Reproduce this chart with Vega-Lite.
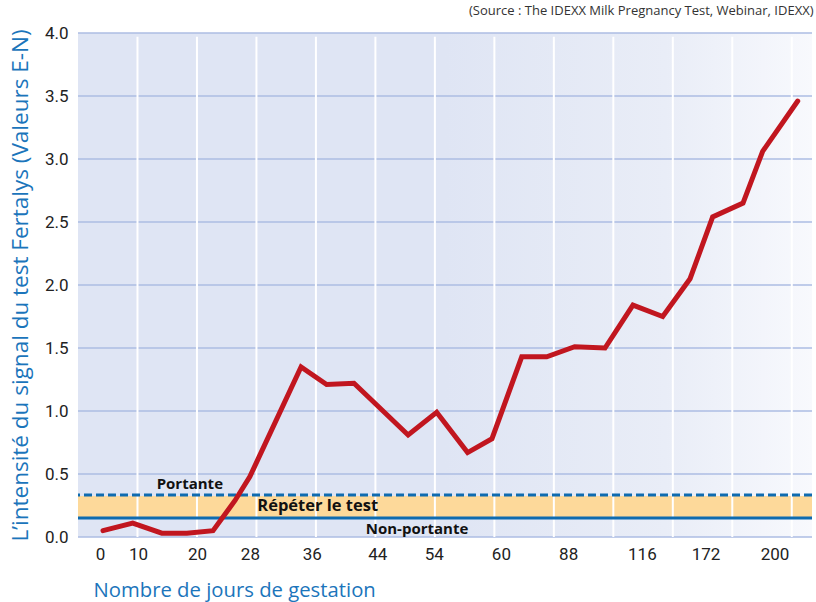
{
  "$schema": "https://vega.github.io/schema/vega-lite/v6.json",
  "width": 734,
  "height": 504,
  "autosize": {"type": "none"},
  "padding": {"left": 78, "top": 33, "right": 4, "bottom": 65},
  "background": "white",
  "config": {"view": {"stroke": null}, "font": "Roboto"},
  "title": {"text": "(Source : The IDEXX Milk Pregnancy Test, Webinar, IDEXX)", "anchor": "end", "fontSize": 13, "fontWeight": "normal", "color": "#333333", "font": "Open Sans", "offset": 6},
  "datasets": {
    "series": [
      {"position": 0.42, "value": 0.05},
      {"position": 0.92, "value": 0.11},
      {"position": 1.41, "value": 0.03},
      {"position": 1.83, "value": 0.03},
      {"position": 2.27, "value": 0.05},
      {"position": 2.64, "value": 0.29},
      {"position": 2.89, "value": 0.48},
      {"position": 3.75, "value": 1.35},
      {"position": 4.18, "value": 1.21},
      {"position": 4.64, "value": 1.22},
      {"position": 5.55, "value": 0.81},
      {"position": 6.03, "value": 0.99},
      {"position": 6.55, "value": 0.67},
      {"position": 6.96, "value": 0.78},
      {"position": 7.46, "value": 1.43},
      {"position": 7.88, "value": 1.43},
      {"position": 8.35, "value": 1.51},
      {"position": 8.86, "value": 1.50},
      {"position": 9.33, "value": 1.84},
      {"position": 9.83, "value": 1.75},
      {"position": 10.29, "value": 2.05},
      {"position": 10.67, "value": 2.54},
      {"position": 11.18, "value": 2.65},
      {"position": 11.51, "value": 3.06},
      {"position": 12.10, "value": 3.46}
    ],
    "hgrid": [{"v": 0}, {"v": 0.5}, {"v": 1}, {"v": 1.5}, {"v": 2}, {"v": 2.5}, {"v": 3}, {"v": 3.5}, {"v": 4}],
    "vgrid": [{"p": 1}, {"p": 2}, {"p": 3}, {"p": 4}, {"p": 5}, {"p": 6}, {"p": 7}, {"p": 8}, {"p": 9}, {"p": 10}, {"p": 11}, {"p": 12}],
    "labels": [
      {"position": 1.88, "value": 0.42, "text": "Portante"},
      {"position": 4.03, "value": 0.245, "text": "Répéter le test"},
      {"position": 5.70, "value": 0.063, "text": "Non-portante"}
    ]
  },
  "layer": [
    {
      "data": {"values": [{}]},
      "mark": {"type": "rect", "color": {"gradient": "linear", "x1": 0, "x2": 1, "y1": 0, "y2": 0, "stops": [{"offset": 0, "color": "#DFE5F4"}, {"offset": 0.5, "color": "#DFE5F4"}, {"offset": 0.8, "color": "#E9EDF7"}, {"offset": 1, "color": "#F8F9FD"}]}},
      "encoding": {
        "x": {"datum": 0, "type": "quantitative", "scale": {"domain": [0, 12.34], "nice": false, "zero": false}, "axis": {"values": [0.37, 1.01, 2.0, 2.89, 3.93, 5.03, 5.98, 7.11, 8.24, 9.48, 10.55, 11.71], "labelExpr": "['0','10','20','28','36','44','54','60','88','116','172','200'][indexof([0.37, 1.01, 2.0, 2.89, 3.93, 5.03, 5.98, 7.11, 8.24, 9.48, 10.55, 11.71], datum.value)]", "grid": false, "ticks": false, "domain": false, "labelFontSize": 17, "labelColor": "#222222", "labelPadding": 9, "labelFont": "Roboto", "title": "Nombre de jours de gestation", "titleFontSize": 20.3, "titleFontWeight": "normal", "titleColor": "#1B75BB", "titleAnchor": "start", "titleAlign": "left", "titleX": 15, "titleY": 53, "titleBaseline": "middle", "titleFont": "Open Sans"}},
        "x2": {"datum": 12.34},
        "y": {"datum": 0, "type": "quantitative", "scale": {"domain": [0, 4], "nice": false}, "axis": {"values": [0, 0.5, 1, 1.5, 2, 2.5, 3, 3.5, 4], "format": ".1f", "grid": false, "ticks": false, "domain": false, "labelFontSize": 17, "labelColor": "#222222", "labelPadding": 10, "labelFont": "Roboto", "title": "L’intensité du signal du test Fertalys (Valeurs E-N)", "titleFontSize": 22.5, "titleFontWeight": "normal", "titleColor": "#1B75BB", "titlePadding": 12, "titleFont": "Open Sans"}},
        "y2": {"datum": 4}
      }
    },
    {
      "data": {"values": [{}]},
      "mark": {"type": "rect", "color": "#FDD99A"},
      "encoding": {
        "x": {"datum": 0, "type": "quantitative"},
        "x2": {"datum": 12.34},
        "y": {"datum": 0.15, "type": "quantitative"},
        "y2": {"datum": 0.325}
      }
    },
    {
      "data": {"name": "hgrid"},
      "mark": {"type": "rule", "color": "#ADBCE3", "strokeWidth": 1.5},
      "encoding": {"y": {"field": "v", "type": "quantitative"}}
    },
    {
      "data": {"name": "vgrid"},
      "mark": {"type": "rule", "color": "#FFFFFF", "strokeWidth": 2},
      "encoding": {
        "x": {"field": "p", "type": "quantitative"},
        "y": {"datum": 0, "type": "quantitative"},
        "y2": {"datum": 3.97}
      }
    },
    {
      "data": {"values": [{}]},
      "mark": {"type": "rule", "color": "#0E6BB0", "strokeWidth": 3},
      "encoding": {"y": {"datum": 0.15, "type": "quantitative"}}
    },
    {
      "data": {"values": [{}]},
      "mark": {"type": "rule", "color": "#0E6BB0", "strokeWidth": 3, "strokeDash": [8, 4]},
      "encoding": {"y": {"datum": 0.333, "type": "quantitative"}}
    },
    {
      "data": {"name": "series"},
      "mark": {"type": "line", "color": "#C1161F", "strokeWidth": 5, "strokeJoin": "miter", "strokeCap": "round"},
      "encoding": {
        "x": {"field": "position", "type": "quantitative"},
        "y": {"field": "value", "type": "quantitative"}
      }
    },
    {
      "data": {"name": "labels"},
      "mark": {"type": "text", "fontWeight": "bold", "color": "#111111", "font": "Open Sans"},
      "encoding": {
        "x": {"field": "position", "type": "quantitative"},
        "y": {"field": "value", "type": "quantitative"},
        "text": {"field": "text"},
        "size": {"condition": {"test": "datum.text === 'Répéter le test'", "value": 16.5}, "value": 15}
      }
    }
  ]
}
